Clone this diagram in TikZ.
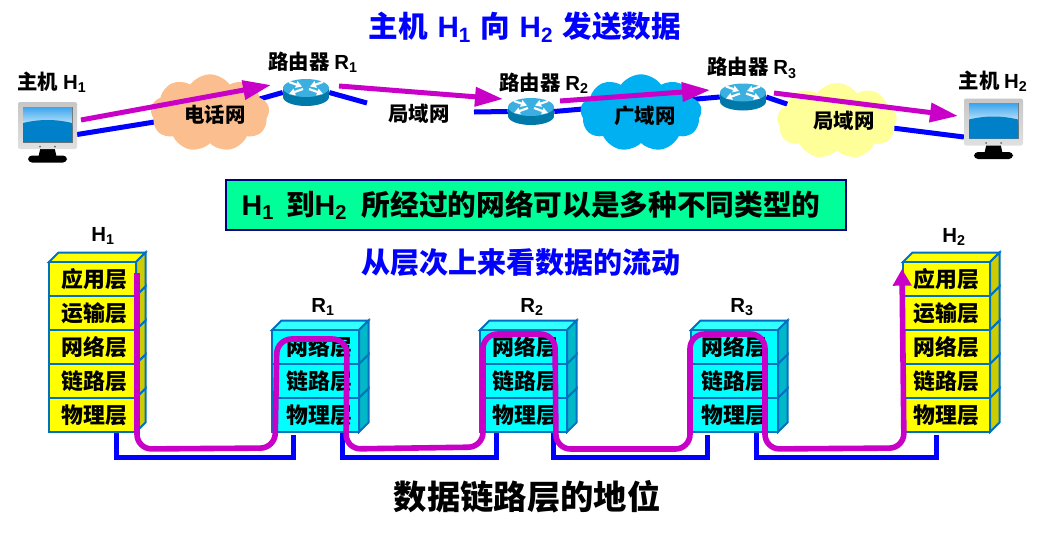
\documentclass[tikz,border=0pt]{standalone}
\usepackage{fontspec}
\setmainfont{Noto Sans CJK SC}
\newfontfamily\latinfont[BoldFont={Liberation Sans Bold}]{Liberation Sans}
\newcommand{\lsub}[2]{{\latinfont\bfseries #1\textsubscript{#2}}}
\usetikzlibrary{arrows.meta,backgrounds,calc,shapes.symbols}
\definecolor{flowcolor}{RGB}{200,0,200}
\definecolor{hostedge}{RGB}{0,112,192}
\definecolor{greenbox}{RGB}{0,255,153}
\definecolor{wireblue}{RGB}{0,0,255}
\definecolor{hostyellow}{RGB}{255,255,0}
\definecolor{routercyan}{RGB}{0,255,255}
\definecolor{peach}{RGB}{251,191,143}
\definecolor{skyblue}{RGB}{0,176,240}
\definecolor{paleyellow}{RGB}{255,255,153}
\tikzset{
  wire/.style={draw=wireblue, line width=3.75pt, line cap=butt},
  flow/.style={draw=flowcolor, line width=4.2pt},
  sendarrow/.style={draw=flowcolor, line width=3.75pt, -{Triangle[length=21pt,width=14pt]}},
  netcloud/.style={cloud, cloud puffs=9, cloud puff arc=110, cloud ignores aspect, inner sep=0pt},
  hostlayer/.style={draw=hostedge, line width=1.5pt, fill=hostyellow, minimum width=65.25pt, minimum height=25.5pt, inner sep=0pt, font=\fontsize{16.4}{16}\bfseries},
  routerlayer/.style={hostlayer, fill=routercyan},
  routerbox/.style={minimum width=34.5pt, minimum height=20pt, inner sep=0pt},
  hostbox/.style={minimum width=44pt, minimum height=35pt, inner sep=0pt},
  tag/.style={font=\fontsize{15.3}{15}\bfseries},
  bigblue/.style={text=wireblue, font=\fontsize{21.8}{22}\bfseries},
}
\begin{document}
\begin{tikzpicture}[x=0.75pt, y=-0.75pt]
  \useasboundingbox (0,0) rectangle (1045,536);

  \node[bigblue, font=\fontsize{22.2}{22}\bfseries] (title) at (525,27) {主机\hspace{2pt} \lsub{H}{1}\hspace{2pt} 向\hspace{2pt} \lsub{H}{2}\hspace{2pt} 发送数据};

  \node[netcloud, fill=peach, minimum width=89pt, minimum height=58pt] (cloudA) at (210,113) {};
  \node[netcloud, fill=skyblue, minimum width=91pt, minimum height=58pt] (cloudB) at (641,113) {};
  \node[netcloud, fill=paleyellow, minimum width=90pt, minimum height=57pt] (cloudC) at (837,121) {};

  \node[hostbox] (hostA) at (47.5,125.5) {};
  \node[hostbox] (hostB) at (993.5,122) {};
  \node[routerbox] (routerA) at (306,92.5) {};
  \node[routerbox] (routerB) at (531,111.5) {};
  \node[routerbox] (routerC) at (743,97) {};
  \coordinate (lanAin) at (367,103);
  \coordinate (lanAout) at (474,112);

  \begin{pgfonlayer}{background}
    \draw[wire] ($(hostA.east)+(0,9)$) -- (cloudA.center);
    \draw[wire] (cloudA.center) -- (routerA.west);
    \draw[wire] (routerA.east) -- (lanAin);
    \draw[wire] (lanAout) -- (routerB.west);
    \draw[wire] (routerB.east) -- (routerC.west);
    \draw[wire] (routerC.east) -- (cloudC.center);
    \draw[wire] (cloudC.center) -- ($(hostB.west)+(0,15)$);
  \end{pgfonlayer}

  \foreach \rx/\ry in {306/88,531/107,743/92.5}{
    \fill[color={rgb,255:red,0;green,120;blue,168}] (\rx-23,\ry) rectangle (\rx+23,\ry+9);
    \fill[color={rgb,255:red,0;green,120;blue,168}] (\rx,\ry+9) ellipse [x radius=23, y radius=9];
    \fill[color={rgb,255:red,60;green,175;blue,225}] (\rx,\ry) ellipse [x radius=23, y radius=9];
    \foreach \sx in {1,-1}{
      \draw[white, line width=1.6pt, -{Triangle[length=4.5pt,width=5pt]}] (\rx+\sx*17,\ry-6) -- (\rx+\sx*4,\ry-1.5);
      \draw[white, line width=1.6pt, -{Triangle[length=4.5pt,width=5pt]}] (\rx+\sx*3,\ry+1) -- (\rx+\sx*17,\ry+6);
    }
  }

  \foreach \hx/\hy in {47.5/125.5,993.5/122}{
    \begin{scope}[shift={(\hx,\hy)}]
      \fill[black] (-7,22) -- (7,22) -- (9,31) -- (-9,31) -- cycle;
      \fill[black, rounded corners=3pt] (-19.5,30) rectangle (19.5,37);
      \shade[top color=black!22, bottom color=black!12, rounded corners=1.5pt] (-29.5,-23.5) rectangle (29.5,23.5);
      \fill[black!55] (-25,-19) rectangle (25,17);
      \shade[top color={rgb,255:red,60;green,165;blue,238}, bottom color={rgb,255:red,200;green,232;blue,250}] (-24.5,-18.5) rectangle (24.5,0);
      \fill[color={rgb,255:red,0;green,128;blue,200}] (-24.5,-2.5) .. controls (-8,-6.5) and (8,-6.5) .. (24.5,-2.5) -- (24.5,16.5) -- (-24.5,16.5) -- cycle;
      \fill[black!60] (-7.5,21) circle (1) (7.5,21) circle (1);
    \end{scope}
  }

  \node[tag] (hostAname) at (52,82) {主机 \lsub{H}{1}};
  \node[tag] (hostBname) at (993,81) {主机 \lsub{H}{2}};
  \node[tag] (routerAname) at (313,62) {路由器 \lsub{R}{1}};
  \node[tag] (routerBname) at (544,83) {路由器 \lsub{R}{2}};
  \node[tag] (routerCname) at (752,68) {路由器 \lsub{R}{3}};
  \node[tag] (cloudAname) at (215,115) {电话网};
  \node[tag] (lanAname) at (419,114) {局域网};
  \node[tag] (cloudBname) at (645,116) {广域网};
  \node[tag] (cloudCname) at (844,121) {局域网};

  \coordinate (sendA) at (81,120);
  \coordinate (tipA) at (271,85);
  \coordinate (sendB) at (339,86);
  \coordinate (tipB) at (503,99);
  \coordinate (sendC) at (560,101);
  \coordinate (tipC) at (710,90);
  \coordinate (sendD) at (774,93);
  \coordinate (tipD) at (958,116);
  \draw[sendarrow] (sendA) -- (tipA);
  \draw[sendarrow] (sendB) -- (tipB);
  \draw[sendarrow] (sendC) -- (tipC);
  \draw[sendarrow] (sendD) -- (tipD);

  \node[draw={rgb,255:red,0;green,0;blue,128}, line width=1.5pt, fill=greenbox, minimum width=465pt, minimum height=38pt, inner sep=0pt] (note) at (535.5,205) {};
  \node[font=\fontsize{21.5}{22}\bfseries] (notetext) at (531,205) {\lsub{H}{1}\hspace{4pt} 到\lsub{H}{2}\hspace{6pt} 所经过的网络可以是多种不同类型的};
  \node[bigblue] (subtitle) at (521,263) {从层次上来看数据的流动};

  \foreach \s/\x/\o in {hA/49/3,hB/903/0}{
    \draw[draw=hostedge, line width=1.5pt, fill=hostyellow] (\x,262) -- ++(9.5,-9.5) -- ++(87,0) -- ++(-9.5,9.5) -- cycle;
    \foreach \l/\t/\y in {app/应用层/279,tra/运输层/313,net/网络层/347,lnk/链路层/381,phy/物理层/415}{
      \draw[draw=hostedge, line width=1.5pt, fill={rgb,255:red,204;green,204;blue,0}] (\x+87,\y-17) -- ++(9.5,-9.5) -- ++(0,34) -- ++(-9.5,9.5) -- cycle;
      \node[hostlayer] (\s\l) at (\x+43.5,\y) {\hspace{\o pt}\t};
    }
  }
  \foreach \s/\x/\o in {rA/272/6,rB/480/3,rC/691/0}{
    \draw[draw=hostedge, line width=1.5pt, fill={rgb,255:red,51;green,255;blue,255}] (\x,330) -- ++(9.5,-9.5) -- ++(87,0) -- ++(-9.5,9.5) -- cycle;
    \foreach \l/\t/\y in {net/网络层/347,lnk/链路层/381,phy/物理层/415}{
      \draw[draw=hostedge, line width=1.5pt, fill={rgb,255:red,0;green,184;blue,200}] (\x+87,\y-17) -- ++(9.5,-9.5) -- ++(0,34) -- ++(-9.5,9.5) -- cycle;
      \node[routerlayer] (\s\l) at (\x+43.5,\y) {\hspace{\o pt}\t};
    }
  }

  \node[tag] (hAname) at (103,236) {\lsub{H}{1}};
  \node[tag] (rAname) at (323,307) {\lsub{R}{1}};
  \node[tag] (rBname) at (532,307) {\lsub{R}{2}};
  \node[tag] (rCname) at (742,307) {\lsub{R}{3}};
  \node[tag] (hBname) at (954,237) {\lsub{H}{2}};

  \draw[wire] ($(hAphy.south east)+(-21,0)$) -- ++(0,24) -| ($(rAphy.south west)+(22,2)$);
  \draw[wire] ($(rAphy.south east)+(-18,0)$) -- ++(0,24) -| ($(rBphy.south west)+(17,0)$);
  \draw[wire] ($(rBphy.south east)+(-15,0)$) -- ++(0,24) -| ($(rCphy.south west)+(17,2)$);
  \draw[wire] ($(rCphy.south east)+(-23,0)$) -- ++(0,24) -| ($(hBphy.south west)+(34,2)$);

  \draw[flow, rounded corners=11pt, -{Triangle[length=12.5pt,width=13.5pt]}] ($(hAapp.east)+(0,-6)$) -- (137,449) -- (275,448) -- (277,339) -- (347,339) -- (346,449) -- (483,447) -- (483,334) -- (555,334) -- (556,449) -- (690,449) -- (690,334) -- (765,334) -- (765,449) -- (904,448) -- (hBapp.west |- 0,269);

  \node[font=\fontsize{25}{26}\bfseries] (caption) at (527,497) {数据链路层的地位};
\end{tikzpicture}
\end{document}
